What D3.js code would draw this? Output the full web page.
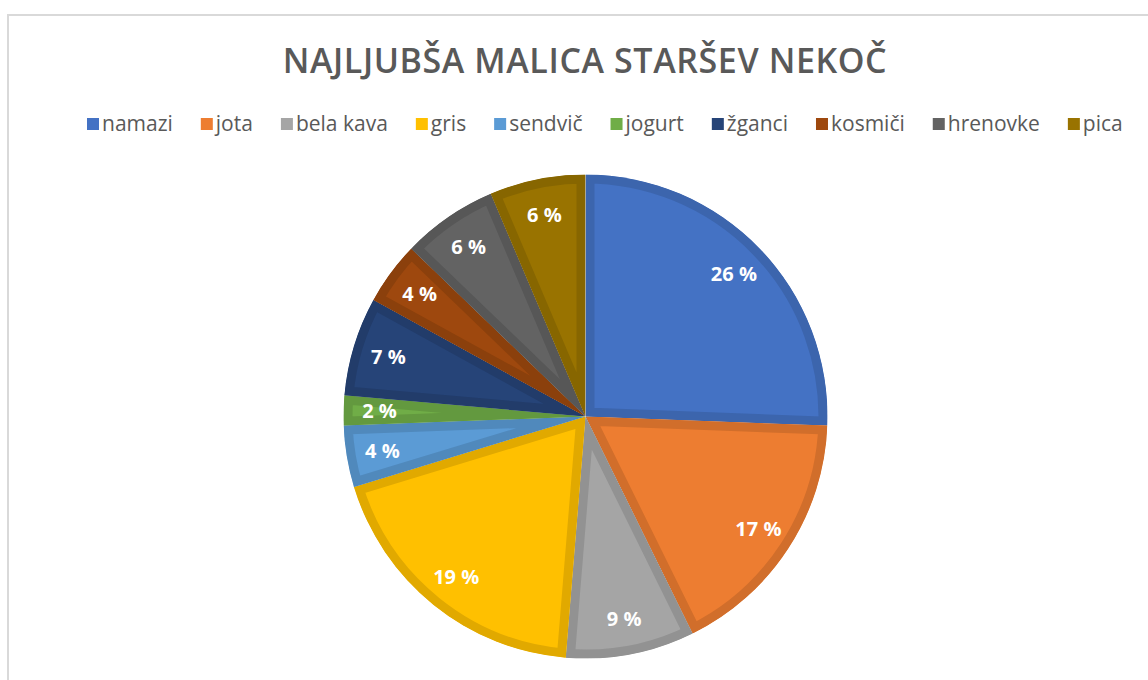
<!DOCTYPE html>
<html><head><meta charset="utf-8">
<script src="https://cdn.jsdelivr.net/npm/d3@7"></script>
<style>html,body{margin:0;padding:0;background:#fff;}</style>
</head><body>
<script>
const categories = ["namazi","jota","bela kava","gris","sendvič","jogurt","žganci","kosmiči","hrenovke","pica"];
const values = [25.6,17.1,8.6,19.0,4.1,2.0,6.6,4.2,6.4,6.4];
const colors = ["#4472C4","#ED7D31","#A5A5A5","#FFC000","#5B9BD5","#70AD47","#264478","#9E480E","#636363","#997300"];
const title = "NAJLJUBŠA MALICA STARŠEV NEKOČ";

const W = 1148, H = 680;
const svg = d3.select("body").append("svg").attr("width", W).attr("height", H);

// chart frame
svg.append("path").attr("d", `M8,${H+5} L8,15 L${W+5},15`)
  .attr("fill","none").attr("stroke","#d9d9d9").attr("stroke-width",2);

svg.append("text").attr("x", 585).attr("y", 73).attr("text-anchor","middle")
  .attr("font-family","'Open Sans'").attr("font-weight",600).attr("font-size",34)
  .attr("fill","#595959").attr("letter-spacing",0.6).text(title);

// legend
const legend = svg.append("g").attr("font-family","'Open Sans'").attr("font-size",21).attr("fill","#595959");
let lx = 87;
categories.forEach((c,i)=>{
  legend.append("rect").attr("x", lx).attr("y", 118).attr("width", 12).attr("height", 12).attr("fill", colors[i]);
  const t = legend.append("text").attr("x", lx + 15).attr("y", 131).text(c);
  const w = t.node().getComputedTextLength();
  lx += 15 + w + 28;
});

const cx = 585.5, cy = 416.5, R = 242;
const total = d3.sum(values);
const pie = d3.pie().sort(null).value(d=>d)(values);
const arc = d3.arc().innerRadius(0).outerRadius(R);
const g = svg.append("g").attr("transform", `translate(${cx},${cy})`);
const defs = svg.append("defs");
pie.forEach((p,i)=>{
  defs.append("clipPath").attr("id","clip"+i).append("path").attr("d", arc(p));
});
g.selectAll("path.slice").data(pie).join("path").attr("class","slice")
  .attr("d", arc)
  .attr("fill", (d,i)=>colors[i])
  .attr("stroke", (d,i)=>d3.color(colors[i]).darker(0.35))
  .attr("stroke-width", 18)
  .attr("stroke-linejoin","miter")
  .attr("clip-path", (d,i)=>`url(#clip${i})`);

const labelArc = d3.arc().innerRadius(206).outerRadius(206);
g.selectAll("text.lbl").data(pie).join("text").attr("class","lbl")
  .attr("transform", d=>`translate(${labelArc.centroid(d)})`)
  .attr("text-anchor","middle").attr("dy","0.35em")
  .attr("font-family","'Open Sans'").attr("font-weight",700).attr("font-size",20)
  .attr("fill","#fff")
  .text((d,i)=>Math.round(values[i]/total*100) + " %");
</script>
</body></html>
